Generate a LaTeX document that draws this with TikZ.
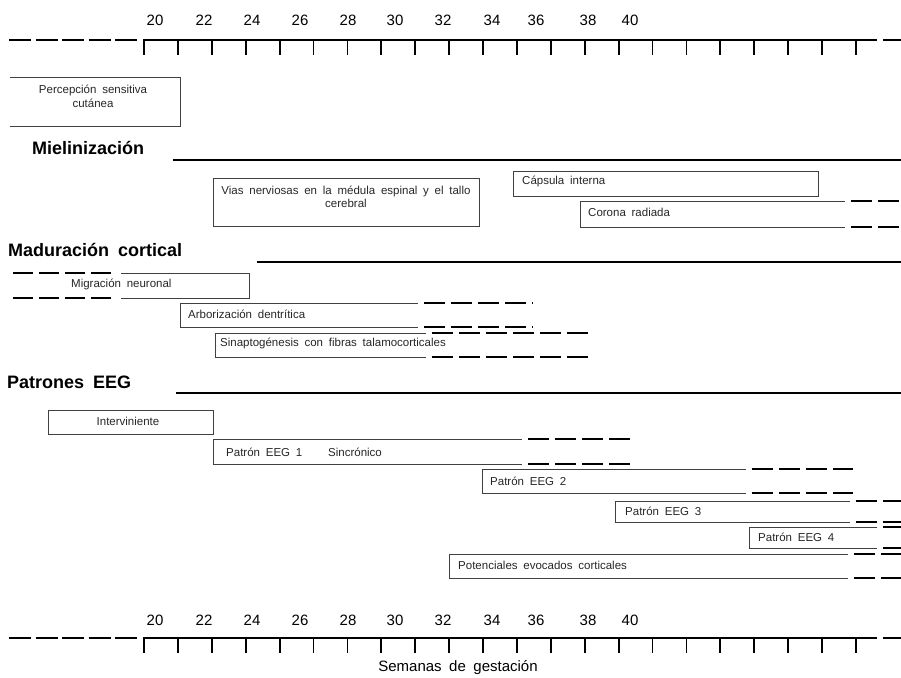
\documentclass[tikz,border=0pt]{standalone}
\usepackage{fontspec}
\setmainfont[WordSpace=1.8]{Liberation Sans}
\begin{document}
\begin{tikzpicture}[x=1pt,y=-1pt,
	bar/.style={line width=.9pt,black!75},
	cont/.style={line width=1.6pt,dash pattern=on 21pt off 6pt},
	axis/.style={line width=2.6pt},
	tick/.style={line width=1.8pt},
	rule/.style={line width=2pt},
	heading/.style={anchor=west,inner sep=0pt,font=\bfseries\fontsize{18}{20}\selectfont},
	lbl/.style={anchor=west,inner sep=0pt,text=black!85,font=\fontsize{11.5}{13.5}\selectfont},
	num/.style={inner sep=0pt,font=\fontsize{15}{16}\selectfont}]
	\useasboundingbox (0,0) rectangle (901,677);
	
	\foreach \y in {40,638} {
		\draw[axis,dash pattern=on 22pt off 4.5pt] (9,\y) -- (140,\y);
		\draw[axis] (143,\y) -- (877,\y);
		\draw[axis] (883,\y) -- (901,\y);
		\foreach \i in {0,...,21}
			\draw[tick] (144+33.9*\i,\y) -- ++(0,15);
	}
	\foreach \x/\t in {155/20,204/22,252/24,300/26,348/28,395/30,443/32,492/34,536/36,588/38,630/40} {
		\node[num] (t\t) at (\x,20) {\t};
		\node[num] (b\t) at (\x,620) {\t};
	}
	\node[num] (weeks) at (458,668) {Semanas de gestación};
	
	\draw[bar] (10,77) -- (180,77) -- (180,126) -- (10,126);
	\node[lbl,anchor=center,align=center] (tacto) at (93,96.5) {Percepción sensitiva\\cutánea};
	
	\node[heading] (miel) at (32,148) {Mielinización};
	\draw[rule] (173,160) -- (901,160);
	\draw[bar] (213,178) rectangle (479,226);
	\node[lbl,anchor=center,align=center] (vias) at (346,197) {Vias nerviosas en la médula espinal y el tallo\\cerebral};
	\draw[bar] (513,171) rectangle (818,196);
	\node[lbl] (capsula) at (522,181) {Cápsula interna};
	\node[lbl] (corona) at (588,212) {Corona radiada};
	
	\node[heading] (madur) at (8,250) {Maduración cortical};
	\draw[rule] (257,262) -- (901,262);
	\draw[cont,dash pattern=on 20pt off 6pt] (13,273) -- (113,273) (13,298) -- (113,298);
	\draw[bar] (121,273) -- (249,273) -- (249,298) -- (121,298);
	\node[lbl] (migra) at (71,284) {Migración neuronal};
	\node[lbl] (arbor) at (188,314) {Arborización dentrítica};
	\node[lbl] (sinap) at (220,343) {Sinaptogénesis con fibras talamocorticales};
	
	\node[heading] (eeg) at (7,382) {Patrones EEG};
	\draw[rule] (176,393) -- (901,393);
	\draw[bar] (48,410) rectangle (213,434);
	\node[lbl,anchor=center] (interv) at (128,421) {Interviniente};
	\node[lbl] (eeg1) at (226,452) {Patrón EEG 1};
	\node[lbl] (sincro) at (328,452) {Sincrónico};
	\node[lbl] (eeg2) at (490,481) {Patrón EEG 2};
	\node[lbl] (eeg3) at (625,511) {Patrón EEG 3};
	\node[lbl] (eeg4) at (758,537) {Patrón EEG 4};
	\node[lbl] (potenc) at (458,565) {Potenciales evocados corticales};
	
	\foreach \a/\b/\c/\d/\e in {580/845/201/227/901,180/418/303/327/533,215/426/333/357/591,213/522/439/464/630,482/746/469/493/853,615/850/501/522/901,749/877/527/548/901,449/848/554/578/901} {
		\draw[bar] (\b,\c) -- (\a,\c) -- (\a,\d) -- (\b,\d);
		\draw[cont] (\b+6,\c) -- (\e,\c) (\b+6,\d) -- (\e,\d);
	}
\end{tikzpicture}
\end{document}
